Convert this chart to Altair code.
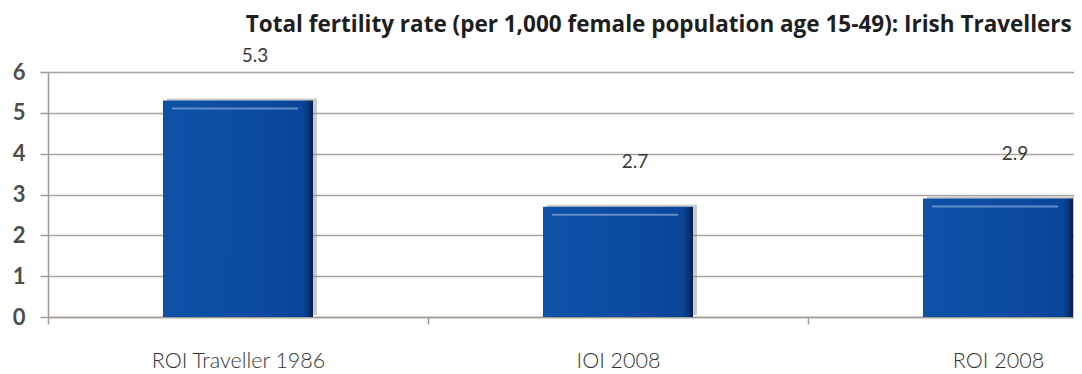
import altair as alt
import pandas as pd

categories = ["ROI Traveller 1986", "IOI 2008", "ROI 2008"]
values = [5.3, 2.7, 2.9]
value_labels = ["5.3", "2.7", "2.9"]
y_ticks = [0, 1, 2, 3, 4, 5, 6]
title_text = "Total fertility rate (per 1,000 female population  age 15-49): Irish Travellers"

df = pd.DataFrame({"cat": categories, "value": values, "label": value_labels})

grid_col = "#a39a94"

x_enc = alt.X(
    "cat:N",
    sort=categories,
    title=None,
    scale=alt.Scale(range=[0, 1140], paddingInner=0, paddingOuter=0),
    axis=alt.Axis(
        labelAngle=0,
        labelFont="Lato",
        labelFontWeight=300,
        labelFontSize=21.5,
        labelColor="#333333",
        labelPadding=26,
        tickBand="extent",
        tickSize=7,
        tickColor=grid_col,
        tickWidth=1.5,
        domainColor=grid_col,
        domainWidth=1.5,
        grid=False,
    ),
)

y_enc = alt.Y(
    "value:Q",
    title=None,
    scale=alt.Scale(domain=[0, 6], nice=False),
    axis=alt.Axis(
        values=y_ticks,
        labelFont="Lato",
        labelFontWeight="bold",
        labelFontSize=22,
        labelColor="#4d4d4d",
        labelPadding=15,
        tickSize=8,
        tickColor=grid_col,
        tickWidth=1.5,
        domainColor=grid_col,
        domainWidth=1.5,
        gridColor=grid_col,
        gridWidth=1.5,
        gridOpacity=0.9,
    ),
)

base = alt.Chart(df).encode(x=x_enc, y=y_enc)

shadow = base.mark_bar(size=150, color="#8a8a8a", opacity=0.45, xOffset=4, yOffset=-2)

bars = base.mark_bar(
    size=150,
    color=alt.LinearGradient(
        gradient="linear",
        x1=0, y1=0, x2=1, y2=0,
        stops=[
            alt.GradientStop(offset=0, color="#0f51a6"),
            alt.GradientStop(offset=0.5, color="#0c4da2"),
            alt.GradientStop(offset=0.93, color="#0a469a"),
            alt.GradientStop(offset=0.97, color="#083578"),
            alt.GradientStop(offset=1, color="#051f4c"),
        ],
    ),
)

highlight = base.mark_tick(size=126, thickness=2, color="#6c93cf", yOffset=8, xOffset=-3, opacity=0.9)

text = base.mark_text(
    font="Lato", fontSize=19, color="#3a3a3a", dy=-45, dx=17, baseline="middle"
).encode(text="label:N")

chart = (
    alt.layer(shadow, bars, highlight, text)
    .properties(
        width=1026,
        height=245,
        autosize=alt.AutoSizeParams(type="none"),
        padding={"left": 40, "top": 64, "right": 0, "bottom": 62},
        title=alt.TitleParams(
            text=title_text,
            anchor="end",
            font="Open Sans",
            fontSize=22.5,
            fontWeight="bold",
            color="#1e1e1e",
            offset=10,
            dx=-117,
        ),
    )
    .configure_view(stroke=None)
    .configure(background="white")
)

chart.save("out.html", embed_options={"renderer": "svg", "actions": False})
